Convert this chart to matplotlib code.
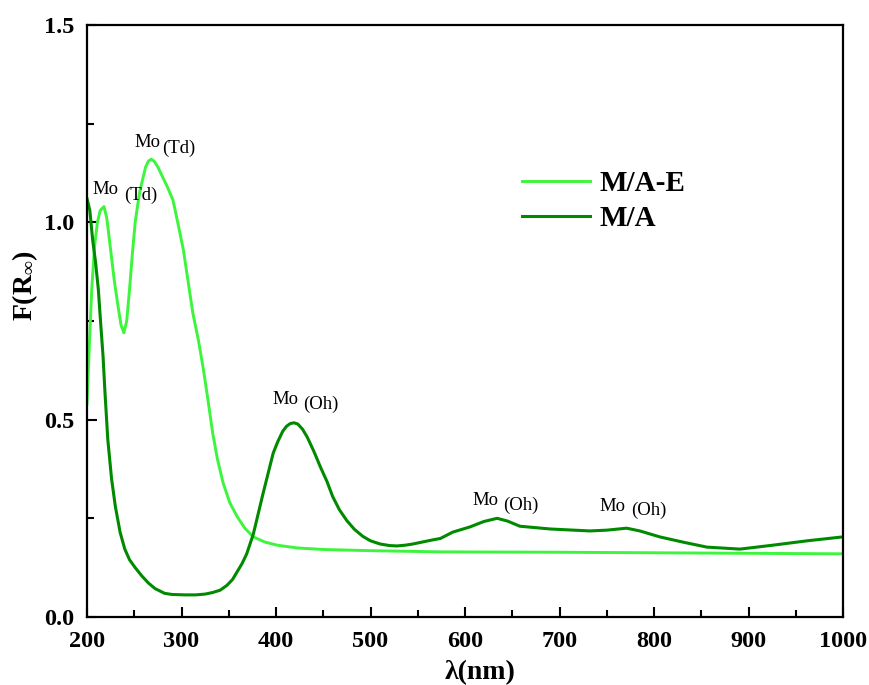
import matplotlib
matplotlib.use("Agg")
import matplotlib.pyplot as plt
from matplotlib.ticker import MultipleLocator

plt.rcParams['font.family'] = ['Liberation Serif', 'DejaVu Serif']
plt.rcParams['mathtext.fontset'] = 'custom'
plt.rcParams['mathtext.rm'] = 'Liberation Serif:bold'
plt.rcParams['mathtext.bf'] = 'Liberation Serif:bold'
plt.rcParams['mathtext.it'] = 'Liberation Serif:bold'

# M/A-E (light green)
mae_x = [200, 202, 205, 208, 211, 214, 218, 221, 226, 229, 233, 236, 239, 242, 245, 248,
         251, 254, 256, 259, 262, 265, 268, 271, 275, 280, 285, 291, 296, 302, 307, 312,
         318, 323, 328, 333, 338, 344, 351, 359, 367, 376, 388, 401, 422, 450, 500, 574,
         700, 850, 1000]
mae_y = [0.54, 0.66, 0.83, 0.94, 1.00, 1.03, 1.04, 1.01, 0.91, 0.85, 0.785, 0.74, 0.72, 0.75, 0.83, 0.92,
         1.00, 1.05, 1.08, 1.11, 1.14, 1.155, 1.16, 1.155, 1.14, 1.115, 1.09, 1.056, 1.00, 0.93, 0.85, 0.77,
         0.70, 0.63, 0.55, 0.466, 0.40, 0.34, 0.29, 0.254, 0.225, 0.203, 0.19, 0.182, 0.175, 0.171, 0.168, 0.165,
         0.164, 0.162, 0.160]

# M/A (dark green)
ma_x = [200, 201, 203, 206, 209, 212, 214, 217, 219, 222, 226, 230, 235, 240, 245, 251, 258,
        265, 272, 282, 290, 304, 315, 325, 333, 341, 348, 354, 359, 364, 369, 376, 386, 397,
        402, 407, 411, 415, 419, 423, 428, 433, 440, 447, 454, 460, 467, 475, 483, 492, 500,
        510, 520, 528, 537, 545, 555, 565, 574, 587, 605, 620, 634, 645, 658, 690, 732, 750,
        771, 785, 806, 830, 856, 891, 926, 962, 1000]
ma_y = [1.06, 1.05, 1.03, 0.955, 0.90, 0.83, 0.76, 0.66, 0.57, 0.45, 0.35, 0.28, 0.215, 0.172, 0.145, 0.125, 0.104,
        0.086, 0.072, 0.06, 0.057, 0.056, 0.056, 0.058, 0.062, 0.068, 0.08, 0.095, 0.115, 0.135, 0.16, 0.21, 0.31, 0.415,
        0.445, 0.47, 0.483, 0.49, 0.492, 0.489, 0.476, 0.456, 0.42, 0.38, 0.343, 0.305, 0.272, 0.244, 0.222, 0.204, 0.193,
        0.185, 0.181, 0.18, 0.182, 0.185, 0.19, 0.195, 0.199, 0.215, 0.228, 0.242, 0.25, 0.243, 0.23, 0.223, 0.218, 0.220,
        0.225, 0.218, 0.203, 0.19, 0.177, 0.172, 0.182, 0.193, 0.203]

series_labels = ["M/A-E", "M/A"]
x_ticks = [200, 300, 400, 500, 600, 700, 800, 900, 1000]
y_ticks = [0.0, 0.5, 1.0, 1.5]

# annotations: (main text, x, y), (sub text, x, y)
ann = [
    ("Mo", 205.3, 1.072, "(Td)", 239.1, 1.056),
    ("Mo", 250.3, 1.191, "(Td)", 279.4, 1.176),
    ("Mo", 395.8, 0.539, "(Oh)", 428.6, 0.527),
    ("Mo", 607.4, 0.284, "(Oh)", 640.2, 0.271),
    ("Mo", 741.8, 0.269, "(Oh)", 775.7, 0.258),
]

fig = plt.figure(figsize=(8.7, 6.85), dpi=100)
ax = fig.add_axes([0.1, 0.0993, 0.869, 0.8642])

light = '#3cf53c'
dark = '#008a00'
ax.plot(mae_x, mae_y, color=light, lw=2.1, label=series_labels[0])
ax.plot(ma_x, ma_y, color=dark, lw=2.2, label=series_labels[1])

for m, mx, my, s, sx, sy in ann:
    ax.text(mx, my, m, fontsize=13.5, ha='left', va='baseline')
    ax.text(sx, sy, s, fontsize=13.5, ha='left', va='baseline')

ax.set_xlim(200, 1000)
ax.set_ylim(0, 1.5)
ax.set_xticks(x_ticks)
ax.set_yticks(y_ticks)
ax.set_xticklabels([str(v) for v in x_ticks])
ax.set_yticklabels([f"{v:.1f}" for v in y_ticks])
ax.xaxis.set_minor_locator(MultipleLocator(50))
ax.yaxis.set_minor_locator(MultipleLocator(0.25))
ax.tick_params(which='both', direction='in', width=1.5, top=False, right=False)
ax.tick_params(which='major', length=7, labelsize=17.5)
ax.tick_params(axis='x', which='major', pad=10)
ax.tick_params(axis='y', which='major', pad=9)
ax.tick_params(which='minor', length=5)
for lab in ax.get_xticklabels() + ax.get_yticklabels():
    lab.set_fontweight('bold')
for sp in ax.spines.values():
    sp.set_linewidth(1.6)

ax.set_xlabel("λ(nm)", fontsize=20, fontweight='bold')
ax.xaxis.set_label_coords(0.52, -0.072)
ax.set_ylabel(r"F(R$_{\infty}$)", fontsize=20, fontweight='bold')
ax.yaxis.set_label_coords(-0.062, 0.56)

leg = ax.legend(loc='upper left', bbox_to_anchor=(0.575, 0.755), frameon=False,
                fontsize=21, handlelength=2.35, handletextpad=0.3, labelspacing=0.28,
                borderpad=0, borderaxespad=0)
for t in leg.get_texts():
    t.set_fontweight('bold')

fig.savefig("out.png", dpi=100)
